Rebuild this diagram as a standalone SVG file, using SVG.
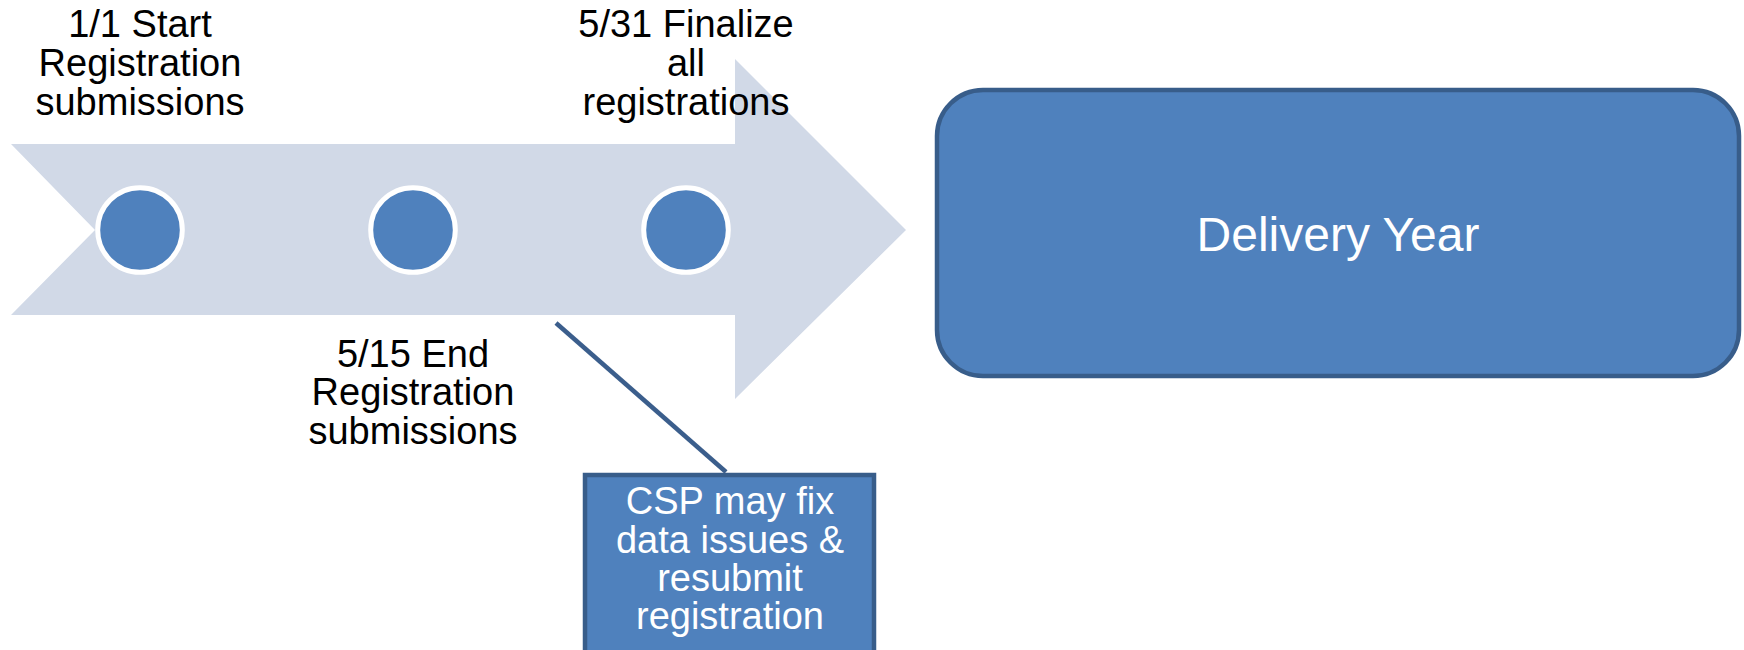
<svg xmlns="http://www.w3.org/2000/svg" width="1744" height="650" viewBox="0 0 1744 650">
<style>
.lbl{font-family:"Liberation Sans",Arial,sans-serif;font-size:38px;fill:#000;text-anchor:middle}
.wlbl{font-family:"Liberation Sans",Arial,sans-serif;font-size:38px;fill:#fff;text-anchor:middle}
.dot{fill:#4F81BD;stroke:#fff;stroke-width:5}
.box{fill:#4F81BD;stroke:#385D8A;stroke-width:4.5}
</style>
<rect width="1744" height="650" fill="#fff"/>
<g id="timeline-arrow">
<polygon points="11,144 735,144 735,59 906,230 735,399 735,315 11,315 95,230" fill="#D1D9E7"/>
</g>
<g id="connectors">
<line x1="556" y1="323" x2="726" y2="472" stroke="#3B5E8C" stroke-width="4.5"/>
</g>
<g id="m1">
<circle class="dot" cx="140" cy="230" r="42.3"/>
<text class="lbl"><tspan x="140" y="37">1/1 Start</tspan><tspan x="140" y="76">Registration</tspan><tspan x="140" y="115">submissions</tspan></text>
</g>
<g id="m2">
<circle class="dot" cx="413" cy="230" r="42.3"/>
<text class="lbl"><tspan x="413" y="367">5/15 End</tspan><tspan x="413" y="405">Registration</tspan><tspan x="413" y="444">submissions</tspan></text>
</g>
<g id="m3">
<circle class="dot" cx="686" cy="230" r="42.3"/>
<text class="lbl"><tspan x="686" y="37">5/31 Finalize</tspan><tspan x="686" y="76">all</tspan><tspan x="686" y="115">registrations</tspan></text>
</g>
<g id="delivery-year">
<rect class="box" x="937" y="90" width="802" height="286" rx="46" ry="46"/>
<text class="wlbl" x="1338" y="251" style="font-size:48px">Delivery Year</text>
</g>
<g id="csp-note">
<rect class="box" x="585" y="475" width="289" height="190"/>
<text class="wlbl"><tspan x="730" y="514">CSP may fix</tspan><tspan x="730" y="553">data issues &amp;</tspan><tspan x="730" y="591">resubmit</tspan><tspan x="730" y="629">registration</tspan></text>
</g>
</svg>
